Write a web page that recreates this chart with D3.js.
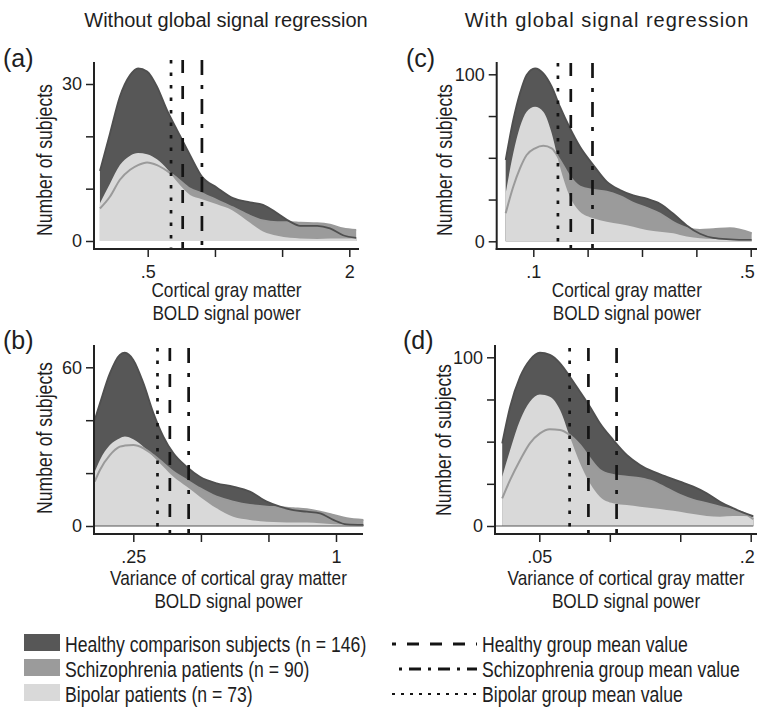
<!DOCTYPE html>
<html>
<head>
<meta charset="utf-8">
<script src="https://cdn.jsdelivr.net/npm/d3@7"></script>
<style>
  body { margin: 0; background: #fff; }
  svg text { font-family: "Liberation Sans", Arial, sans-serif; fill: #1e1e1e; }
</style>
</head>
<body>
<svg id="chart" width="757" height="707"></svg>
<script>
// ---- data ----
const groups = ['Healthy comparison subjects (n = 146)', 'Schizophrenia patients (n = 90)', 'Bipolar patients (n = 73)'];
const meanNames = ['Healthy group mean value', 'Schizophrenia group mean value', 'Bipolar group mean value'];
const colTitles = ['Without global signal regression', 'With global signal regression'];

// (a) cortical gray matter BOLD power, no GSR
const xA = [0.360, 0.386, 0.413, 0.443, 0.468, 0.498, 0.533, 0.571, 0.612, 0.669, 0.726, 0.805, 0.899, 1.011, 1.105, 1.219, 1.331, 1.425, 1.604, 1.751, 1.916, 2.097];
const healthyA = [13.4, 20.6, 27.6, 31.7, 33.0, 32.4, 29.5, 25.0, 21.2, 16.4, 12.3, 10.2, 8.2, 7.4, 6.9, 5.3, 3.7, 2.9, 2.9, 2.4, 1.1, 0.6];
const schizoA = [6.2, 8.5, 11.7, 13.6, 14.5, 15.0, 14.5, 13.4, 12.0, 10.0, 9.1, 7.8, 6.4, 4.8, 3.9, 3.6, 3.6, 3.5, 3.4, 3.1, 2.4, 2.1];
const bipolarA = [7.2, 11.0, 14.5, 16.3, 16.8, 16.6, 15.6, 13.8, 11.3, 8.8, 8.0, 7.0, 5.8, 3.5, 1.8, 1.0, 0.6, 0.5, 0.4, 0.5, 0.5, 0.5];
const meansA = [0.636, 0.726, 0.587];          // healthy, schizophrenia, bipolar
const xTicksA = [0.5, 0.794, 1.26, 2];
const xTickTextA = ['.5', '', '', '2'];
const yTicksA = [0, 10, 20, 30];
const yTickTextA = ['0', '', '', '30'];

// (c) cortical gray matter BOLD power, with GSR
const xC = [0.0815, 0.0862, 0.0906, 0.0952, 0.1013, 0.1077, 0.1146, 0.1218, 0.1312, 0.1413, 0.1559, 0.1722, 0.1900, 0.2096, 0.2315, 0.2554, 0.2819, 0.3113, 0.3435, 0.3790, 0.4289, 0.5036];
const healthyC = [48.7, 72.6, 88.6, 99.6, 103.6, 100.6, 92.6, 80.6, 67.7, 56.6, 45.7, 35.7, 30.7, 27.5, 25.5, 22.5, 16.5, 9.5, 4.5, 2.0, 1.2, 0.8];
const schizoC = [16.8, 32.7, 43.7, 51.7, 55.7, 57.2, 55.7, 48.7, 38.7, 32.7, 30.7, 29.7, 27.0, 23.0, 20.0, 16.5, 11.5, 8.0, 6.8, 7.2, 7.8, 4.8];
const bipolarC = [28.7, 52.7, 68.6, 77.6, 80.6, 77.6, 64.7, 44.7, 26.7, 17.7, 13.8, 11.7, 10.4, 8.7, 6.8, 5.7, 4.8, 2.8, 1.8, 1.4, 1.2, 1.2];
const meansC = [0.132, 0.155, 0.120];
const xTicksC = [0.1, 0.1495, 0.2236, 0.3344, 0.5];
const xTickTextC = ['.1', '', '', '', '.5'];
const yTicksC = [0, 25, 50, 75, 100];
const yTickTextC = ['0', '', '', '', '100'];

// (b) variance of BOLD power, no GSR
const xB = [0.192, 0.199, 0.213, 0.228, 0.236, 0.250, 0.268, 0.287, 0.307, 0.329, 0.360, 0.394, 0.442, 0.495, 0.555, 0.623, 0.682, 0.747, 0.819, 0.897, 0.982, 1.076, 1.206];
const healthyB = [40.1, 46.4, 57.7, 64.7, 65.5, 62.8, 53.9, 42.6, 33.8, 27.5, 22.4, 18.6, 16.1, 14.9, 13.0, 9.2, 7.3, 6.0, 5.4, 4.8, 2.3, 0.6, 0.4];
const schizoB = [16.8, 21.2, 26.8, 30.0, 30.4, 30.6, 29.4, 26.8, 23.7, 20.5, 17.4, 14.3, 11.1, 9.2, 7.9, 7.3, 7.1, 6.7, 6.3, 5.4, 4.2, 2.9, 2.3];
const bipolarB = [20.5, 25.0, 30.6, 33.2, 33.8, 32.8, 30.0, 26.2, 22.4, 18.6, 14.9, 11.1, 6.7, 3.5, 2.3, 1.6, 1.4, 1.3, 1.3, 1.0, 0.7, 0.6, 0.6];
const meansB = [0.321, 0.365, 0.295];
const xTicksB = [0.25, 0.397, 0.63, 1];
const xTickTextB = ['.25', '', '', '1'];
const yTicksB = [0, 20, 40, 60];
const yTickTextB = ['0', '', '', '60'];

// (d) variance of BOLD power, with GSR
const xD = [0.0392, 0.0413, 0.0441, 0.0470, 0.0502, 0.0536, 0.0573, 0.0611, 0.0653, 0.0697, 0.0744, 0.0812, 0.0887, 0.0968, 0.1056, 0.1153, 0.1258, 0.1373, 0.1499, 0.1635, 0.1784, 0.1905, 0.2034];
const healthyD = [49.0, 70.7, 88.5, 98.4, 102.7, 101.4, 96.4, 88.5, 79.6, 70.7, 60.9, 51.0, 42.1, 36.2, 32.2, 29.2, 26.3, 23.3, 19.4, 14.4, 10.5, 7.9, 5.9];
const schizoD = [16.4, 27.3, 39.1, 49.0, 54.9, 57.3, 56.9, 53.9, 48.0, 40.1, 33.2, 30.2, 29.2, 28.3, 26.3, 22.3, 18.4, 15.4, 13.5, 11.4, 9.5, 7.9, 4.0];
const bipolarD = [29.2, 45.0, 62.8, 73.7, 78.0, 76.6, 68.8, 52.9, 37.2, 25.3, 17.4, 13.5, 12.4, 11.4, 10.5, 9.5, 8.5, 7.1, 5.9, 5.5, 5.9, 5.9, 5.2];
const meansD = [0.069, 0.083, 0.061];
const xTicksD = [0.05, 0.0794, 0.126, 0.2];
const xTickTextD = ['.05', '', '', '.2'];
const yTicksD = [0, 25, 50, 75, 100];
const yTickTextD = ['0', '', '', '', '100'];

const titlePower = ['Cortical gray matter', 'BOLD signal power'];
const titleVar = ['Variance of cortical gray matter', 'BOLD signal power'];

// ---- styles ----
const fills = ['#575757', '#9b9b9b', '#d9d9d9'];
const meanDash = ['13 13', '15 10 4 10', '3.5 9'];   // dashed, dash-dot, dotted
const legendDash = ['12 11', '12 7 3 7', '3 6'];

// ---- panels (layout in pixels) ----
const panels = [
  { tag: '(a)', xs: xA, series: [healthyA, schizoA, bipolarA], means: meansA,
    xTicks: xTicksA, xText: xTickTextA, yTicks: yTicksA, yText: yTickTextA, xTitle: titlePower,
    L: { axisX: 94, xEnd: 359, axisTop: 62, axisY: 249, xr: [147.7, 349.3], yr: [241, 84], meanTop: 60, tag: [3, 67], yTitle: [52, 160], t1: 297, t2: 320, zero: false } },
  { tag: '(c)', xs: xC, series: [healthyC, schizoC, bipolarC], means: meansC,
    xTicks: xTicksC, xText: xTickTextC, yTicks: yTicksC, yText: yTickTextC, xTitle: titlePower,
    L: { axisX: 496.7, xEnd: 757, axisTop: 62, axisY: 249, xr: [533.3, 750.7], yr: [241.3, 74.3], meanTop: 63, tag: [406, 67], yTitle: [452, 160], t1: 297, t2: 320, zero: false } },
  { tag: '(b)', xs: xB, series: [healthyB, schizoB, bipolarB], means: meansB,
    xTicks: xTicksB, xText: xTickTextB, yTicks: yTicksB, yText: yTickTextB, xTitle: titleVar,
    L: { axisX: 94, xEnd: 363, axisTop: 345, axisY: 534, xr: [133.3, 336], yr: [526, 367.3], meanTop: 348, tag: [3, 349], yTitle: [52, 438], t1: 585, t2: 608, zero: true } },
  { tag: '(d)', xs: xD, series: [healthyD, schizoD, bipolarD], means: meansD,
    xTicks: xTicksD, xText: xTickTextD, yTicks: yTicksD, yText: yTickTextD, xTitle: titleVar,
    L: { axisX: 495, xEnd: 757, axisTop: 345, axisY: 534, xr: [539.3, 750.7], yr: [526, 357.3], meanTop: 348, tag: [403, 349], yTitle: [451, 440], t1: 585, t2: 608, zero: true } }
];

const svg = d3.select('#chart');
svg.append('rect').attr('width', 757).attr('height', 707).attr('fill', '#fff');

// narrow face: use Liberation Sans Narrow when present, otherwise squeeze Liberation Sans
const probe = svg.append('text').style('font-size', '20px').text('Number of subjects');
probe.style('font-family', '"Liberation Sans Narrow", "DejaVu Sans"');
const wNarrow = probe.node().getComputedTextLength();
probe.style('font-family', '"Liberation Sans"');
const wRegular = probe.node().getComputedTextLength();
probe.remove();
const hasNarrow = wNarrow < wRegular * 0.9;
const narrowFam = hasNarrow ? '"Liberation Sans Narrow"' : '"Liberation Sans"';
const sx = hasNarrow ? 1 : 0.82;

function narrowText(parent, x, y, str, size, anchor = 'start', rot = 0) {
  parent.append('g')
    .attr('transform', `translate(${x},${y}) rotate(${rot}) scale(${sx},1)`)
    .append('text')
    .attr('text-anchor', anchor)
    .style('font-family', narrowFam)
    .style('font-size', size + 'px')
    .text(str);
}

// column titles
svg.append('text').attr('x', 226).attr('y', 27).attr('text-anchor', 'middle')
  .style('font-size', '20px').text(colTitles[0]);
svg.append('text').attr('x', 607).attr('y', 27).attr('text-anchor', 'middle')
  .style('font-size', '20px').style('letter-spacing', '1px').text(colTitles[1]);

panels.forEach(p => {
  const L = p.L;
  const x = d3.scaleLog().domain([p.xTicks[0], p.xTicks[p.xTicks.length - 1]]).range(L.xr);
  const y = d3.scaleLinear().domain([0, p.yTicks[p.yTicks.length - 1]]).range(L.yr);
  const g = svg.append('g');

  // filled densities: healthy, schizophrenia, bipolar
  p.series.forEach((s, k) => {
    const area = d3.area()
      .x((d, i) => x(p.xs[i]))
      .y0(y(0))
      .y1(d => y(d))
      .curve(d3.curveMonotoneX);
    g.append('path').datum(s).attr('d', area).attr('fill', fills[k]);
  });

  // outlines that show through the lighter layers
  const line = d3.line().x((d, i) => x(p.xs[i])).y(d => y(d)).curve(d3.curveMonotoneX);
  g.append('path').datum(p.series[1]).attr('d', line)
    .attr('fill', 'none').attr('stroke', '#9a9a9a').attr('stroke-width', 2);
  g.append('path').datum(p.series[0]).attr('d', line)
    .attr('fill', 'none').attr('stroke', '#4f4f4f').attr('stroke-width', 1.8);

  if (L.zero) {
    g.append('line')
      .attr('x1', L.axisX).attr('x2', x(p.xs[p.xs.length - 1]))
      .attr('y1', y(0)).attr('y2', y(0))
      .attr('stroke', '#555').attr('stroke-width', 1);
  }

  // group means
  p.means.forEach((m, k) => {
    g.append('line')
      .attr('x1', x(m)).attr('x2', x(m))
      .attr('y1', L.meanTop).attr('y2', L.axisY)
      .attr('stroke', '#141414').attr('stroke-width', 2.7)
      .attr('stroke-dasharray', meanDash[k]);
  });

  // axes
  const yAxis = g.append('g').attr('transform', `translate(${L.axisX},0)`)
    .call(d3.axisLeft(y).tickValues(p.yTicks).tickSize(8).tickPadding(4)
      .tickFormat((d, i) => p.yText[i]));
  const xAxis = g.append('g').attr('transform', `translate(0,${L.axisY})`)
    .call(d3.axisBottom(x).tickValues(p.xTicks).tickSize(8).tickPadding(8)
      .tickFormat((d, i) => p.xText[i]));
  [yAxis, xAxis].forEach(a => {
    a.select('.domain').remove();
    a.selectAll('.tick line').attr('stroke', '#222').attr('stroke-width', 1.5);
    a.selectAll('.tick text').attr('fill', '#1e1e1e').style('font-size', '18px')
      .style('font-family', '"Liberation Sans", Arial, sans-serif');
  });
  // keep the last x label inside the page when the axis runs to the edge
  if (L.xEnd >= 757) {
    xAxis.selectAll('.tick text').filter((d, i) => i === p.xTicks.length - 1).attr('dx', -4);
  }
  g.append('line').attr('x1', L.axisX).attr('x2', L.axisX)
    .attr('y1', L.axisTop).attr('y2', L.axisY + 1)
    .attr('stroke', '#222').attr('stroke-width', 2);
  g.append('line').attr('x1', L.axisX - 1).attr('x2', L.xEnd)
    .attr('y1', L.axisY).attr('y2', L.axisY)
    .attr('stroke', '#222').attr('stroke-width', 2);

  // texts
  g.append('text').attr('x', L.tag[0]).attr('y', L.tag[1])
    .style('font-size', '25px').text(p.tag);
  narrowText(g, L.yTitle[0], L.yTitle[1], 'Number of subjects', 21.5, 'middle', -90);
  const cx = (L.axisX + L.xEnd) / 2;
  narrowText(g, cx, L.t1, p.xTitle[0], 21, 'middle');
  narrowText(g, cx, L.t2, p.xTitle[1], 21, 'middle');
});

// legend
const rowBase = [652, 677, 702];
const leg = svg.append('g');
groups.forEach((name, k) => {
  leg.append('rect').attr('x', 24).attr('y', rowBase[k] - 18).attr('width', 36).attr('height', 17)
    .attr('fill', fills[k]);
  narrowText(leg, 65, rowBase[k], name, 21.5);
});
meanNames.forEach((name, k) => {
  const ly = rowBase[k] - 8;
  leg.append('line').attr('x1', 392).attr('x2', 477).attr('y1', ly).attr('y2', ly)
    .attr('stroke', '#141414').attr('stroke-width', k === 2 ? 2 : 3)
    .attr('stroke-dasharray', legendDash[k]).attr('stroke-dashoffset', k === 0 ? 8 : (k === 1 ? 12 : 0));
  narrowText(leg, 482, rowBase[k], name, 21.5);
});
</script>
</body>
</html>
